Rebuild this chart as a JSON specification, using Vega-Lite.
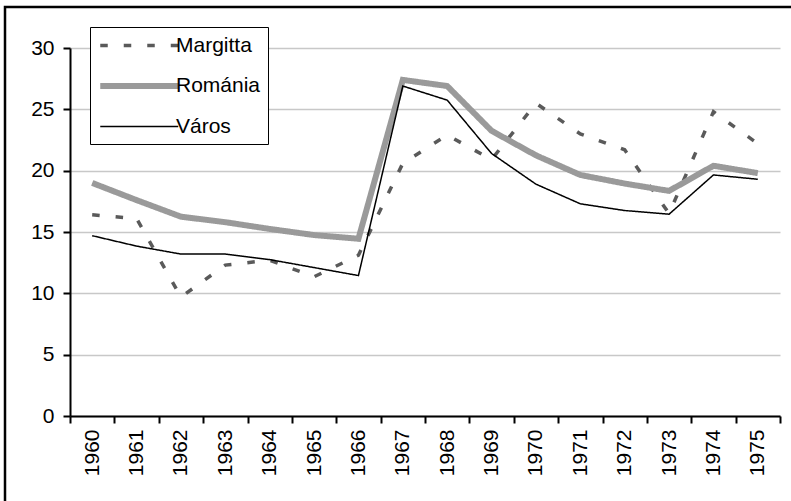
{
  "$schema": "https://vega.github.io/schema/vega-lite/v6.json",
  "width": 786,
  "height": 494,
  "autosize": {"type": "none"},
  "padding": {"left": 5, "top": 7, "right": 0, "bottom": 0},
  "background": "white",
  "config": {
    "font": "Liberation Sans",
    "view": {"stroke": "black", "strokeWidth": 2.5, "fill": "white", "strokeDash": [786, 1280, 496, 0]},
    "axis": {
      "labelFont": "Liberation Sans",
      "labelFontSize": 21,
      "labelColor": "black",
      "domainColor": "black",
      "domainWidth": 2,
      "tickColor": "black",
      "tickWidth": 2,
      "tickSize": 7,
      "title": null
    },
    "legend": {
      "labelFont": "Liberation Sans",
      "labelFontSize": 21,
      "labelColor": "black"
    }
  },
  "data": {
    "values": [
      {"year": "1960", "series": "Margitta", "value": 16.4},
      {"year": "1961", "series": "Margitta", "value": 16.1},
      {"year": "1962", "series": "Margitta", "value": 9.7},
      {"year": "1963", "series": "Margitta", "value": 12.3},
      {"year": "1964", "series": "Margitta", "value": 12.7},
      {"year": "1965", "series": "Margitta", "value": 11.35},
      {"year": "1966", "series": "Margitta", "value": 13.1},
      {"year": "1967", "series": "Margitta", "value": 20.6},
      {"year": "1968", "series": "Margitta", "value": 22.9},
      {"year": "1969", "series": "Margitta", "value": 20.9},
      {"year": "1970", "series": "Margitta", "value": 25.5},
      {"year": "1971", "series": "Margitta", "value": 23.0},
      {"year": "1972", "series": "Margitta", "value": 21.7},
      {"year": "1973", "series": "Margitta", "value": 16.5},
      {"year": "1974", "series": "Margitta", "value": 24.8},
      {"year": "1975", "series": "Margitta", "value": 22.2},
      {"year": "1960", "series": "Románia", "value": 19.0},
      {"year": "1961", "series": "Románia", "value": 17.6},
      {"year": "1962", "series": "Románia", "value": 16.25},
      {"year": "1963", "series": "Románia", "value": 15.8},
      {"year": "1964", "series": "Románia", "value": 15.25},
      {"year": "1965", "series": "Románia", "value": 14.75},
      {"year": "1966", "series": "Románia", "value": 14.45},
      {"year": "1967", "series": "Románia", "value": 27.4},
      {"year": "1968", "series": "Románia", "value": 26.9},
      {"year": "1969", "series": "Románia", "value": 23.25},
      {"year": "1970", "series": "Románia", "value": 21.25},
      {"year": "1971", "series": "Románia", "value": 19.65},
      {"year": "1972", "series": "Románia", "value": 18.95},
      {"year": "1973", "series": "Románia", "value": 18.35},
      {"year": "1974", "series": "Románia", "value": 20.4},
      {"year": "1975", "series": "Románia", "value": 19.8},
      {"year": "1960", "series": "Város", "value": 14.7},
      {"year": "1961", "series": "Város", "value": 13.85},
      {"year": "1962", "series": "Város", "value": 13.2},
      {"year": "1963", "series": "Város", "value": 13.2},
      {"year": "1964", "series": "Város", "value": 12.75},
      {"year": "1965", "series": "Város", "value": 12.1},
      {"year": "1966", "series": "Város", "value": 11.45},
      {"year": "1967", "series": "Város", "value": 26.9},
      {"year": "1968", "series": "Város", "value": 25.75},
      {"year": "1969", "series": "Város", "value": 21.4},
      {"year": "1970", "series": "Város", "value": 18.9},
      {"year": "1971", "series": "Város", "value": 17.3},
      {"year": "1972", "series": "Város", "value": 16.75},
      {"year": "1973", "series": "Város", "value": 16.45},
      {"year": "1974", "series": "Város", "value": 19.65},
      {"year": "1975", "series": "Város", "value": 19.3}
    ]
  },
  "mark": {"type": "line", "strokeCap": "butt", "strokeJoin": "miter"},
  "encoding": {
    "x": {
      "field": "year",
      "type": "ordinal",
      "scale": {"type": "band", "range": [65, 775], "paddingInner": 0, "paddingOuter": 0},
      "axis": {
        "orient": "bottom",
        "offset": -85,
        "grid": false,
        "tickBand": "extent",
        "labelAngle": -90,
        "labelAlign": "right",
        "labelBaseline": "middle",
        "labelPadding": 6
      }
    },
    "y": {
      "field": "value",
      "type": "quantitative",
      "scale": {"domain": [0, 30], "range": [409, 41], "nice": false, "zero": false},
      "axis": {
        "orient": "left",
        "offset": -65,
        "values": [0, 5, 10, 15, 20, 25, 30],
        "grid": true,
        "gridColor": "#c8c8c8",
        "gridWidth": 1.5,
        "labelPadding": 9
      }
    },
    "color": {
      "field": "series",
      "type": "nominal",
      "scale": {"domain": ["Margitta", "Románia", "Város"], "range": ["#5a5a5a", "#9a9a9a", "#000000"]},
      "legend": {
        "title": null,
        "orient": "none",
        "legendX": 85,
        "legendY": 20,
        "strokeColor": "black",
        "padding": 7,
        "rowPadding": 17,
        "symbolType": "M-1,0H7",
        "symbolSize": 380,
        "labelOffset": 53,
        "fillColor": "white"
      }
    },
    "strokeDash": {
      "field": "series",
      "type": "nominal",
      "scale": {"domain": ["Margitta", "Románia", "Város"], "range": [[7.5, 16], [1, 0], [1, 0]]},
      "legend": {
        "title": null,
        "orient": "none",
        "legendX": 85,
        "legendY": 20,
        "strokeColor": "black",
        "padding": 7,
        "rowPadding": 17,
        "symbolType": "M-1,0H7",
        "symbolSize": 380,
        "labelOffset": 53,
        "fillColor": "white"
      }
    },
    "strokeWidth": {
      "field": "series",
      "type": "nominal",
      "scale": {"type": "ordinal", "domain": ["Margitta", "Románia", "Város"], "range": [3.5, 6, 1.5]},
      "legend": {
        "title": null,
        "orient": "none",
        "legendX": 85,
        "legendY": 20,
        "strokeColor": "black",
        "padding": 7,
        "rowPadding": 17,
        "symbolType": "M-1,0H7",
        "symbolSize": 380,
        "labelOffset": 53,
        "fillColor": "white"
      }
    }
  }
}
